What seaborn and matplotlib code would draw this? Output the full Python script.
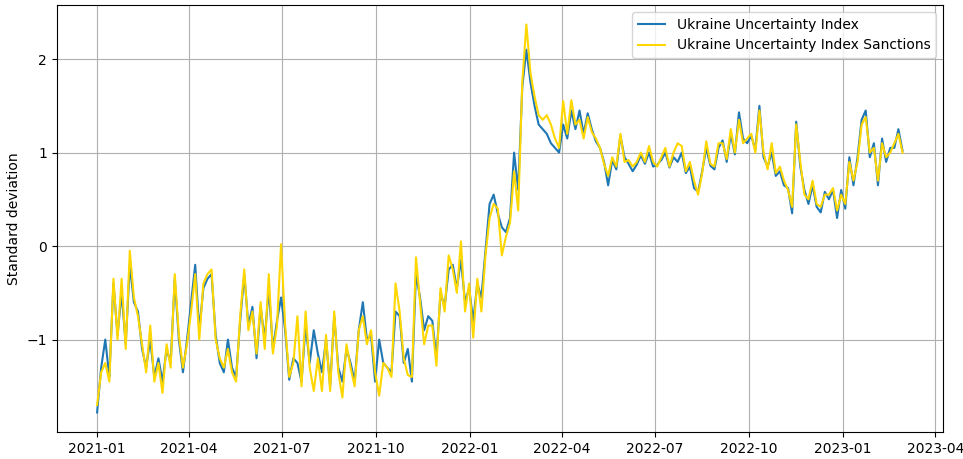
"""Ukraine Uncertainty Index の時系列プロット。"""

import matplotlib

matplotlib.use("Agg")
import matplotlib.dates as mdates
import matplotlib.pyplot as plt
import pandas as pd
import seaborn as sns

START_DATE = "2021-01-01"
STEP = "4D"

uncertainty = [
    -1.78, -1.3, -1.0, -1.4, -0.4, -0.95, -0.5, -1.05, -0.2, -0.6,
    -0.7, -1.1, -1.3, -1.0, -1.4, -1.2, -1.45, -1.1, -1.25, -0.35,
    -1.0, -1.35, -1.0, -0.6, -0.2, -0.9, -0.45, -0.35, -0.3, -0.95,
    -1.25, -1.35, -1.0, -1.3, -1.4, -0.8, -0.3, -0.85, -0.65, -1.2,
    -0.65, -1.0, -0.45, -1.1, -0.8, -0.55, -0.9, -1.43, -1.2, -1.25,
    -1.45, -0.85, -1.25, -0.9, -1.15, -1.35, -1.0, -1.5, -0.75, -1.3,
    -1.45, -1.1, -1.25, -1.45, -0.9, -0.6, -1.0, -0.95, -1.45, -1.0,
    -1.25, -1.3, -1.35, -0.7, -0.75, -1.25, -1.1, -1.45, -0.3, -0.55,
    -0.9, -0.75, -0.8, -1.2, -0.5, -0.65, -0.25, -0.2, -0.45, -0.15,
    -0.6, -0.45, -0.8, -0.4, -0.55, -0.05, 0.45, 0.55, 0.35, 0.2,
    0.15, 0.3, 1.0, 0.6, 1.7, 2.1, 1.75, 1.5, 1.3, 1.25,
    1.2, 1.1, 1.05, 1.0, 1.3, 1.15, 1.45, 1.25, 1.45, 1.2,
    1.42, 1.25, 1.12, 1.05, 0.9, 0.65, 0.92, 0.82, 1.18, 0.95,
    0.88, 0.8, 0.87, 0.97, 0.88, 1.0, 0.85, 0.87, 0.92, 1.0,
    0.84, 0.95, 0.9, 1.0, 0.78, 0.85, 0.62, 0.58, 0.8, 1.05,
    0.86, 0.82, 1.05, 1.13, 0.9, 1.2, 0.98, 1.43, 1.15, 1.1,
    1.18, 1.03, 1.5, 0.95, 0.85, 1.0, 0.75, 0.8, 0.65, 0.62,
    0.35, 1.33, 0.85, 0.6, 0.45, 0.65, 0.42, 0.36, 0.58, 0.5,
    0.6, 0.3, 0.6, 0.4, 0.95, 0.65, 0.95, 1.35, 1.45, 0.95,
    1.1, 0.65, 1.15, 0.9, 1.05, 1.05, 1.25, 1.02,
]

sanctions = [
    -1.7, -1.35, -1.25, -1.45, -0.35, -1.0, -0.35, -1.1, -0.05, -0.55,
    -0.75, -1.05, -1.35, -0.85, -1.45, -1.25, -1.57, -1.05, -1.3, -0.3,
    -0.95, -1.3, -1.05, -0.7, -0.3, -1.0, -0.4, -0.3, -0.25, -1.0,
    -1.2, -1.3, -1.1, -1.35, -1.45, -0.75, -0.25, -0.9, -0.7, -1.15,
    -0.6, -1.1, -0.3, -1.15, -0.85, 0.02, -0.85, -1.4, -1.25, -0.75,
    -1.5, -0.7, -1.3, -1.55, -1.2, -1.55, -0.95, -1.55, -0.7, -1.35,
    -1.62, -1.05, -1.3, -1.5, -0.9, -0.75, -1.05, -0.9, -1.35, -1.6,
    -1.25, -1.3, -1.4, -0.4, -0.7, -1.2, -1.38, -1.4, -0.12, -0.6,
    -1.05, -0.85, -0.85, -1.28, -0.45, -0.7, -0.1, -0.25, -0.5, 0.05,
    -0.7, -0.4, -0.98, -0.35, -0.7, -0.1, 0.3, 0.45, 0.4, -0.1,
    0.1, 0.25, 0.8, 0.38, 1.75, 2.37, 1.85, 1.6, 1.4, 1.35,
    1.4, 1.3, 1.15, 1.05, 1.55, 1.2, 1.56, 1.3, 1.35, 1.15,
    1.38, 1.22, 1.15, 1.05, 0.88, 0.75, 0.95, 0.85, 1.2, 0.9,
    0.92, 0.85, 0.9, 1.0, 0.9, 1.07, 0.9, 0.85, 0.95, 1.05,
    0.85, 1.0, 1.1, 1.07, 0.8, 0.9, 0.7, 0.55, 0.78, 1.12,
    0.88, 0.85, 1.1, 1.1, 0.93, 1.25, 1.0, 1.35, 1.1, 1.15,
    1.2, 1.0, 1.45, 1.0, 0.82, 1.1, 0.78, 0.85, 0.7, 0.6,
    0.42, 1.3, 0.9, 0.55, 0.5, 0.7, 0.45, 0.42, 0.55, 0.55,
    0.62, 0.38, 0.55, 0.45, 0.9, 0.7, 0.9, 1.3, 1.38, 1.0,
    1.05, 0.7, 1.1, 0.95, 1.0, 1.1, 1.2, 1.0,
]

dates = pd.date_range(START_DATE, periods=len(uncertainty), freq=STEP)
df = pd.DataFrame(
    {
        "date": dates,
        "Ukraine Uncertainty Index": uncertainty,
        "Ukraine Uncertainty Index Sanctions": sanctions,
    }
)

fig, ax = plt.subplots(figsize=(9.63, 4.59), dpi=100)
sns.lineplot(data=df, x="date", y="Ukraine Uncertainty Index",
             color="#1f77b4", linewidth=1.5, label="Ukraine Uncertainty Index", ax=ax)
sns.lineplot(data=df, x="date", y="Ukraine Uncertainty Index Sanctions",
             color="gold", linewidth=1.5, label="Ukraine Uncertainty Index Sanctions", ax=ax)

ax.grid(True)
ax.set_xlabel("")
ax.set_ylabel("Standard deviation")
ax.xaxis.set_major_locator(mdates.MonthLocator(bymonth=[1, 4, 7, 10]))
ax.xaxis.set_major_formatter(mdates.DateFormatter("%Y-%m"))
ax.legend(loc="upper right")

fig.subplots_adjust(left=0.059, right=0.979, top=0.989, bottom=0.059)
fig.savefig("out.png", dpi=100)
